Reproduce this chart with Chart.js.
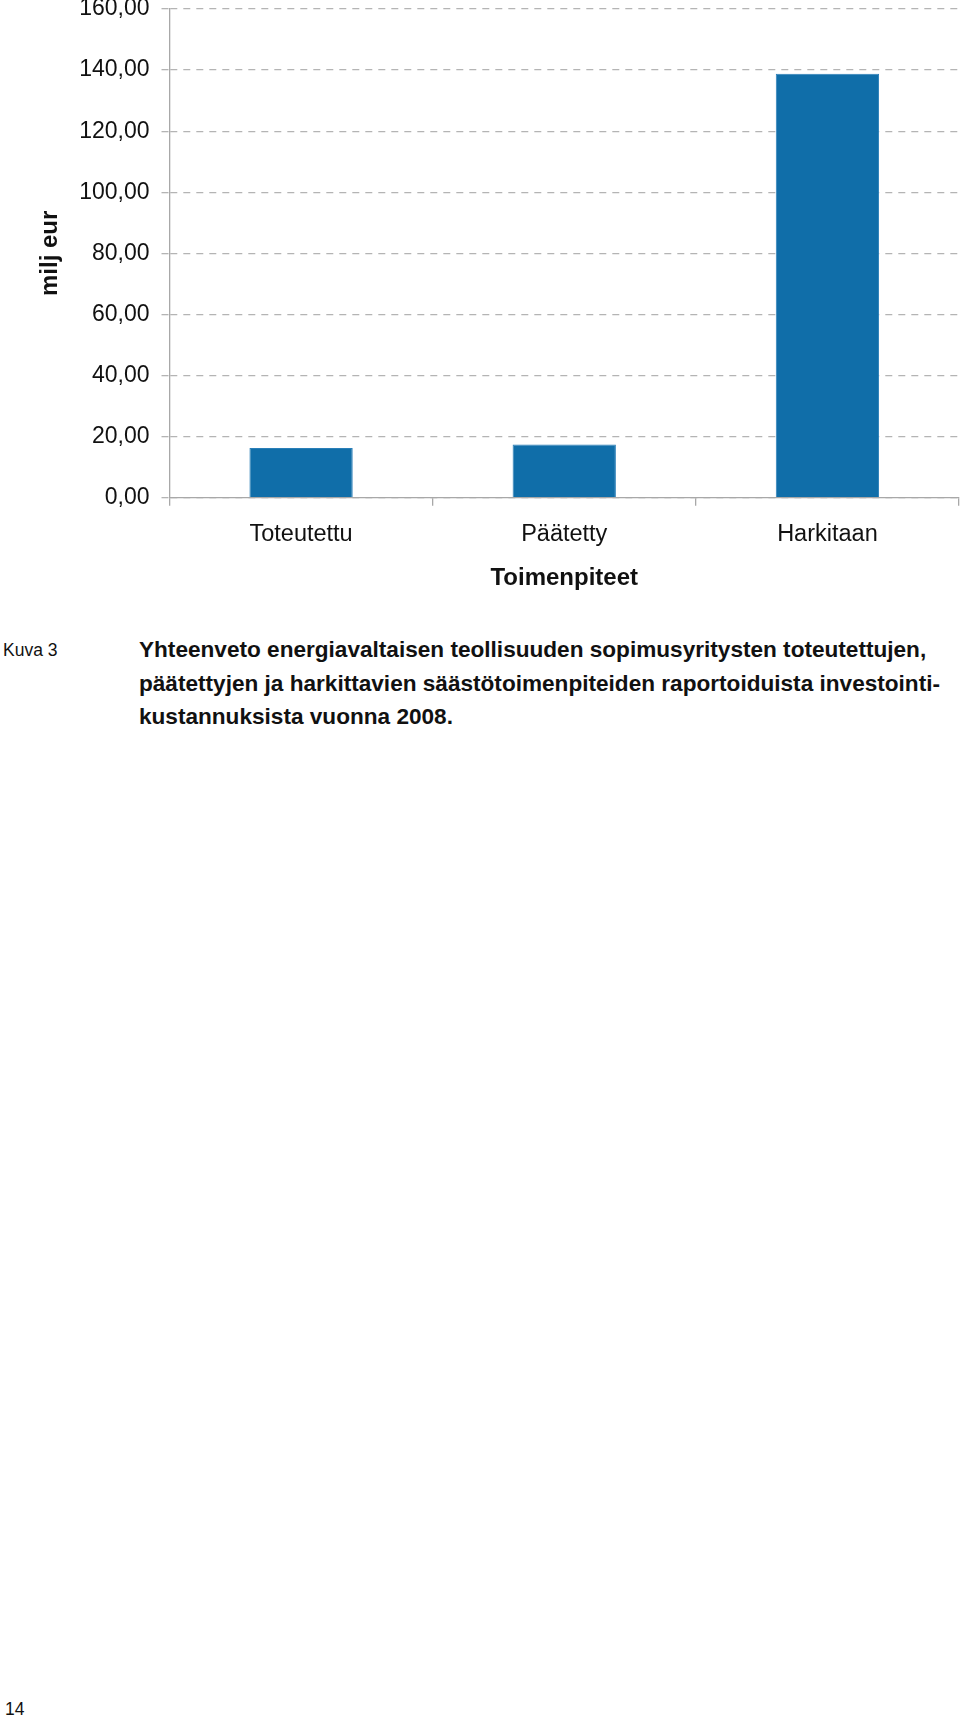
<!DOCTYPE html>
<html lang="fi">
<head>
<meta charset="utf-8">
<title>Toimenpiteet – investointikustannukset 2008</title>
<script src="https://cdn.jsdelivr.net/npm/chart.js@4/dist/chart.umd.min.js"></script>
<style>
  html, body { margin: 0; padding: 0; background: #fff; }
  body { width: 960px; height: 1718px; position: relative; overflow: hidden;
         font-family: "Liberation Sans", Arial, sans-serif; color: #111; }
  #chartBox { position: absolute; left: 0; top: 0; width: 960px; height: 600px; }
  .kuva { position: absolute; left: 3px; top: 639px; font-size: 17.5px; line-height: 22px; }
  .caption { position: absolute; left: 139px; top: 633px; font-size: 22.6px; font-weight: bold;
             line-height: 33.5px; white-space: nowrap; }
  .page { position: absolute; left: 5px; top: 1698px; font-size: 17.5px; line-height: 22px; }
</style>
</head>
<body>
<div id="chartBox"><canvas id="costChart"></canvas></div>
<div class="kuva">Kuva 3</div>
<div class="caption">Yhteenveto energiavaltaisen teollisuuden sopimusyritysten toteutettujen,<br>päätettyjen ja harkittavien säästötoimenpiteiden raportoiduista investointi-<br>kustannuksista vuonna 2008.</div>
<div class="page">14</div>

<script>
/* Investment costs (milj eur) by measure status, 2008 */
const categories = ['Toteutettu', 'Päätetty', 'Harkitaan'];
const costs = [16.3, 17.4, 138.8];
const yTicks = [0, 20, 40, 60, 80, 100, 120, 140, 160];

const axisGray = '#a8a8a8';
const gridGray = '#b4b4b4';
const font = 'Liberation Sans, Arial, sans-serif';

const fmt = v => v.toFixed(2).replace('.', ',');

const ctx = document.getElementById('costChart').getContext('2d');
new Chart(ctx, {
  type: 'bar',
  data: {
    labels: categories,
    datasets: [{
      label: 'milj eur',
      data: costs,
      backgroundColor: '#106ea9',
      borderColor: '#2a7fb8',
      borderWidth: 1,
      categoryPercentage: 1,
      barPercentage: 0.3925
    }]
  },
  options: {
    responsive: true,
    maintainAspectRatio: false,
    animation: false,
    layout: { padding: { top: 9, right: 1, bottom: 0, left: 0 } },
    plugins: {
      legend: { display: false },
      tooltip: { enabled: false }
    },
    scales: {
      x: {
        grid: {
          offset: true,
          drawOnChartArea: false,
          tickLength: 8,
          color: axisGray,
          lineWidth: 1.3
        },
        border: { display: true, color: axisGray, width: 1.3 },
        ticks: { color: '#111', padding: 15, font: { family: font, size: 23.5 } },
        title: {
          display: true,
          text: 'Toimenpiteet',
          color: '#111',
          padding: { top: 0, bottom: 7.6 },
          font: { family: font, size: 24, weight: 'bold' }
        },
        afterFit: s => { s.height = 102.3; s.paddingLeft = 0; s.paddingRight = 0; }
      },
      y: {
        min: 0,
        max: 160,
        afterBuildTicks: s => { s.ticks = yTicks.map(v => ({ value: v })); },
        grid: {
          color: gridGray,
          lineWidth: 1.3,
          tickLength: 8,
          tickBorderDash: [7, 6]
        },
        border: { display: true, color: axisGray, width: 1.3, dash: [7, 6] },
        ticks: {
          color: '#111',
          padding: 12,
          font: { family: font, size: 23 },
          callback: v => fmt(v)
        },
        title: {
          display: true,
          text: 'milj eur',
          color: '#111',
          padding: { top: 35.6, bottom: 0 },
          font: { family: font, size: 24, weight: 'bold' }
        },
        afterFit: s => { s.width = 169.5; s.paddingTop = 0; s.paddingBottom = 0; }
      }
    }
  }
});
</script>
</body>
</html>
